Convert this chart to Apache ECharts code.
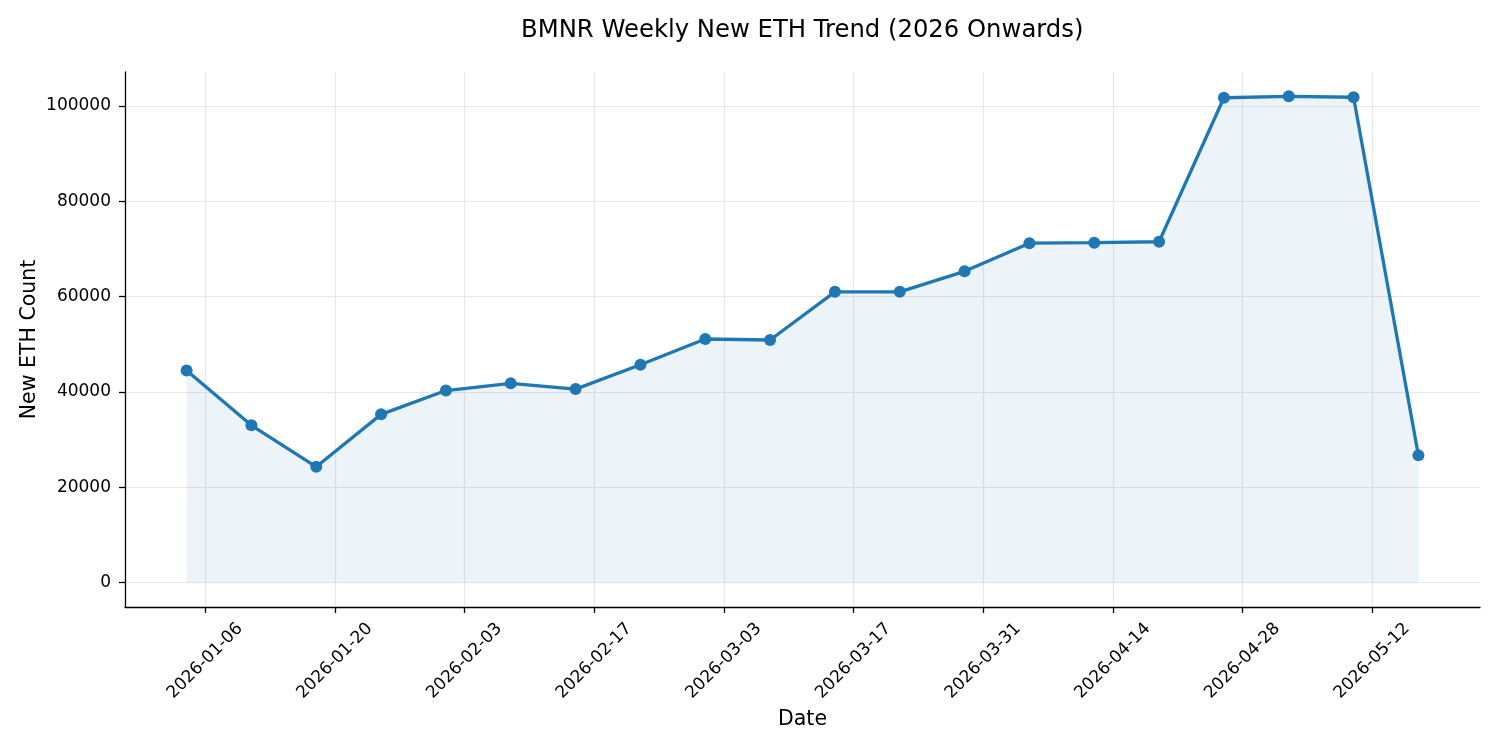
<!DOCTYPE html>
<html>
<head>
<meta charset="utf-8">
<script src="https://cdn.jsdelivr.net/npm/echarts@6/dist/echarts.min.js"></script>
<style>
html,body{margin:0;padding:0;background:#fff;}
#chart{width:1500px;height:750px;}
</style>
</head>
<body>
<div id="chart"></div>
<script>
const dates = ['2026-01-04','2026-01-11','2026-01-18','2026-01-25','2026-02-01','2026-02-08','2026-02-15','2026-02-22','2026-03-01','2026-03-08','2026-03-15','2026-03-22','2026-03-29','2026-04-05','2026-04-12','2026-04-19','2026-04-26','2026-05-03','2026-05-10','2026-05-17'];
const newEth = [44500,33000,24300,35300,40300,41800,40600,45700,51100,50900,61000,61000,65300,71200,71300,71500,101700,102000,101800,26700];
const xTickLabels = ['2026-01-06','2026-01-20','2026-02-03','2026-02-17','2026-03-03','2026-03-17','2026-03-31','2026-04-14','2026-04-28','2026-05-12'];
const yTicks = [0,20000,40000,60000,80000,100000];

const ts = dates.map(d => Date.parse(d + 'T00:00:00Z'));
const xTicks = xTickLabels.map(d => Date.parse(d + 'T00:00:00Z'));
const xSpan = ts[ts.length-1] - ts[0];
const xMin = ts[0] - 0.05 * xSpan;
const xMax = ts[ts.length-1] + 0.05 * xSpan;
const yMaxData = Math.max(...newEth);
const yMin = 0 - 0.05 * yMaxData;
const yMax = yMaxData + 0.05 * yMaxData;

const font = 'DejaVu Sans';
const chart = echarts.init(document.getElementById('chart'), null, {renderer:'canvas'});
chart.setOption({
  animation: false,
  backgroundColor: '#fff',
  title: {
    text: 'BMNR Weekly New ETH Trend (2026 Onwards)',
    left: 521, top: 19, padding: 0,
    textStyle: {fontFamily: font, fontSize: 24.3, fontWeight: 'normal', color: '#000'}
  },
  grid: {left: 125, right: 20, top: 72, bottom: 143, containLabel: false},
  xAxis: {
    type: 'value',
    min: xMin, max: xMax,
    name: 'Date', nameLocation: 'middle', nameGap: 113, nameMoveOverlap: false,
    nameTextStyle: {fontFamily: font, fontSize: 20.5, color: '#000', verticalAlign: 'middle'},
    axisLine: {show: true, onZero: false, lineStyle: {color: '#000', width: 1.3}},
    axisTick: {show: true, length: 6, customValues: xTicks, lineStyle: {color: '#000', width: 1.3}},
    axisLabel: {
      customValues: xTicks, rotate: 45, align: 'center', verticalAlign: 'middle', margin: 54,
      fontFamily: font, fontSize: 17, color: '#000',
      formatter: v => new Date(v).toISOString().slice(0,10)
    },
    splitLine: {show: true, lineStyle: {color: '#e8e8e8', width: 1.2}}
  },
  yAxis: {
    type: 'value',
    min: yMin, max: yMax,
    name: 'New ETH Count', nameLocation: 'middle', nameGap: 95, nameMoveOverlap: false,
    nameTextStyle: {fontFamily: font, fontSize: 20.5, color: '#000', verticalAlign: 'middle'},
    axisLine: {show: true, onZero: false, lineStyle: {color: '#000', width: 1.3}},
    axisTick: {show: true, length: 6, customValues: yTicks, lineStyle: {color: '#000', width: 1.3}},
    axisLabel: {
      customValues: yTicks, margin: 14,
      fontFamily: font, fontSize: 17, color: '#000',
      formatter: v => String(v)
    },
    splitLine: {show: true, lineStyle: {color: '#e8e8e8', width: 1.2}}
  },
  series: [{
    type: 'line',
    data: ts.map((t, i) => [t, newEth[i]]),
    symbol: 'circle', symbolSize: 12, showSymbol: true, showAllSymbol: true,
    lineStyle: {color: '#1f77b4', width: 3.3},
    itemStyle: {color: '#1f77b4', borderWidth: 0},
    areaStyle: {color: 'rgba(31,119,180,0.11)', origin: 0},
    z: 3
  }]
});
</script>
</body>
</html>
